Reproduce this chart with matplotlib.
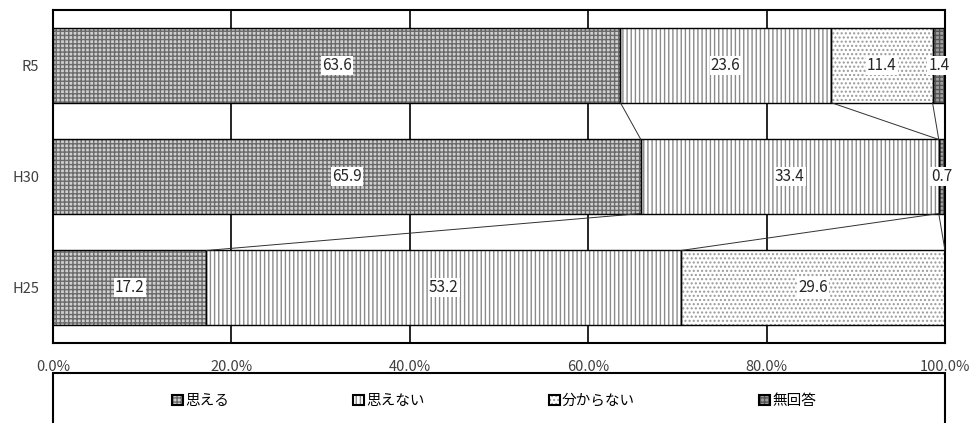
import matplotlib
matplotlib.use("Agg")
import matplotlib.pyplot as plt
from matplotlib.patches import Patch, Rectangle
from matplotlib.legend_handler import HandlerTuple
import numpy as np

plt.rcParams['font.family'] = ['Noto Sans CJK JP', 'DejaVu Sans']
plt.rcParams['hatch.linewidth'] = 1.0

categories = ["R5", "H30", "H25"]
series_names = ["思える", "思えない", "分からない", "無回答"]
omoeru = [63.6, 65.9, 17.2]
omoenai = [23.6, 33.4, 53.2]
wakaranai = [11.4, 0.0, 29.6]
mukaito = [1.4, 0.7, 0.0]
xtick_labels = ["0.0%", "20.0%", "40.0%", "60.0%", "80.0%", "100.0%"]

series = [omoeru, omoenai, wakaranai, mukaito]
styles = [
    dict(face="#d0d0d0", hatchc="#6a6a6a", hatch="++++"),
    dict(face="white", hatchc="#8a8a8a", hatch="||||"),
    dict(face="white", hatchc="#9a9a9a", hatch="...."),
    dict(face="#a0a0a0", hatchc="#555555", hatch="++++"),
]

W, H = 973, 423
fig = plt.figure(figsize=(W / 100, H / 100), dpi=100)
ax = fig.add_axes([53 / W, (H - 343) / H, (945 - 53) / W, (343 - 10) / H])

y = np.arange(len(categories))
bh = 0.667
left = np.zeros(len(categories))
for vals, st in zip(series, styles):
    vals = np.array(vals)
    ax.barh(y, vals, left=left, height=bh, color=st["face"], edgecolor=st["hatchc"],
            hatch=st["hatch"], linewidth=0, zorder=2)
    ax.barh(y, vals, left=left, height=bh, fill=False, edgecolor="black",
            linewidth=1.0, zorder=3)
    for yi, (l, v) in enumerate(zip(left, vals)):
        if v > 0:
            ax.text(l + v / 2, yi, f"{v:.1f}", ha="center", va="center", fontsize=11,
                    color="#262626", zorder=5,
                    bbox=dict(facecolor="white", edgecolor="none", pad=0.8))
    left = left + vals

# series lines
cum = np.cumsum(np.array(series), axis=0)
for i in range(len(categories) - 1):
    for k in range(cum.shape[0]):
        ax.plot([cum[k, i], cum[k, i + 1]], [y[i] + bh / 2, y[i + 1] - bh / 2],
                color="#303030", linewidth=0.7, zorder=4)

ax.set_xlim(0, 100)
ax.set_ylim(len(categories) - 0.5, -0.5)
ax.set_xticks(np.linspace(0, 100, len(xtick_labels)))
ax.set_xticklabels(xtick_labels, fontsize=10.5, color="#404040")
ax.set_yticks(y)
ax.set_yticklabels(categories, fontsize=10.5, color="#404040")
ax.tick_params(axis='y', length=0, pad=10)
ax.tick_params(axis='x', length=0, pad=12)
for x in [20, 40, 60, 80]:
    ax.axvline(x, color="black", linewidth=1.2, zorder=1)
for s in ax.spines.values():
    s.set_linewidth(1.5)
    s.set_color("black")

# legend box
fig.patches.append(Rectangle((53 / W, -0.05), (945 - 53) / W, (H - 373) / H + 0.05,
                             transform=fig.transFigure, fill=False, edgecolor="black",
                             linewidth=1.5))
handles = []
for st in styles:
    handles.append((Patch(facecolor=st["face"], edgecolor=st["hatchc"], hatch=st["hatch"], linewidth=0),
                    Patch(fill=False, edgecolor="black", linewidth=1.5)))
fig.legend(handles, series_names, loc="center", bbox_to_anchor=(494 / W, (H - 401) / H),
           ncol=4, frameon=False, fontsize=10.5, handlelength=0.75, handleheight=0.75,
           handletextpad=0.15, columnspacing=8.5,
           handler_map={tuple: HandlerTuple(ndivide=1, pad=0)})

fig.savefig("out.png", dpi=100)
